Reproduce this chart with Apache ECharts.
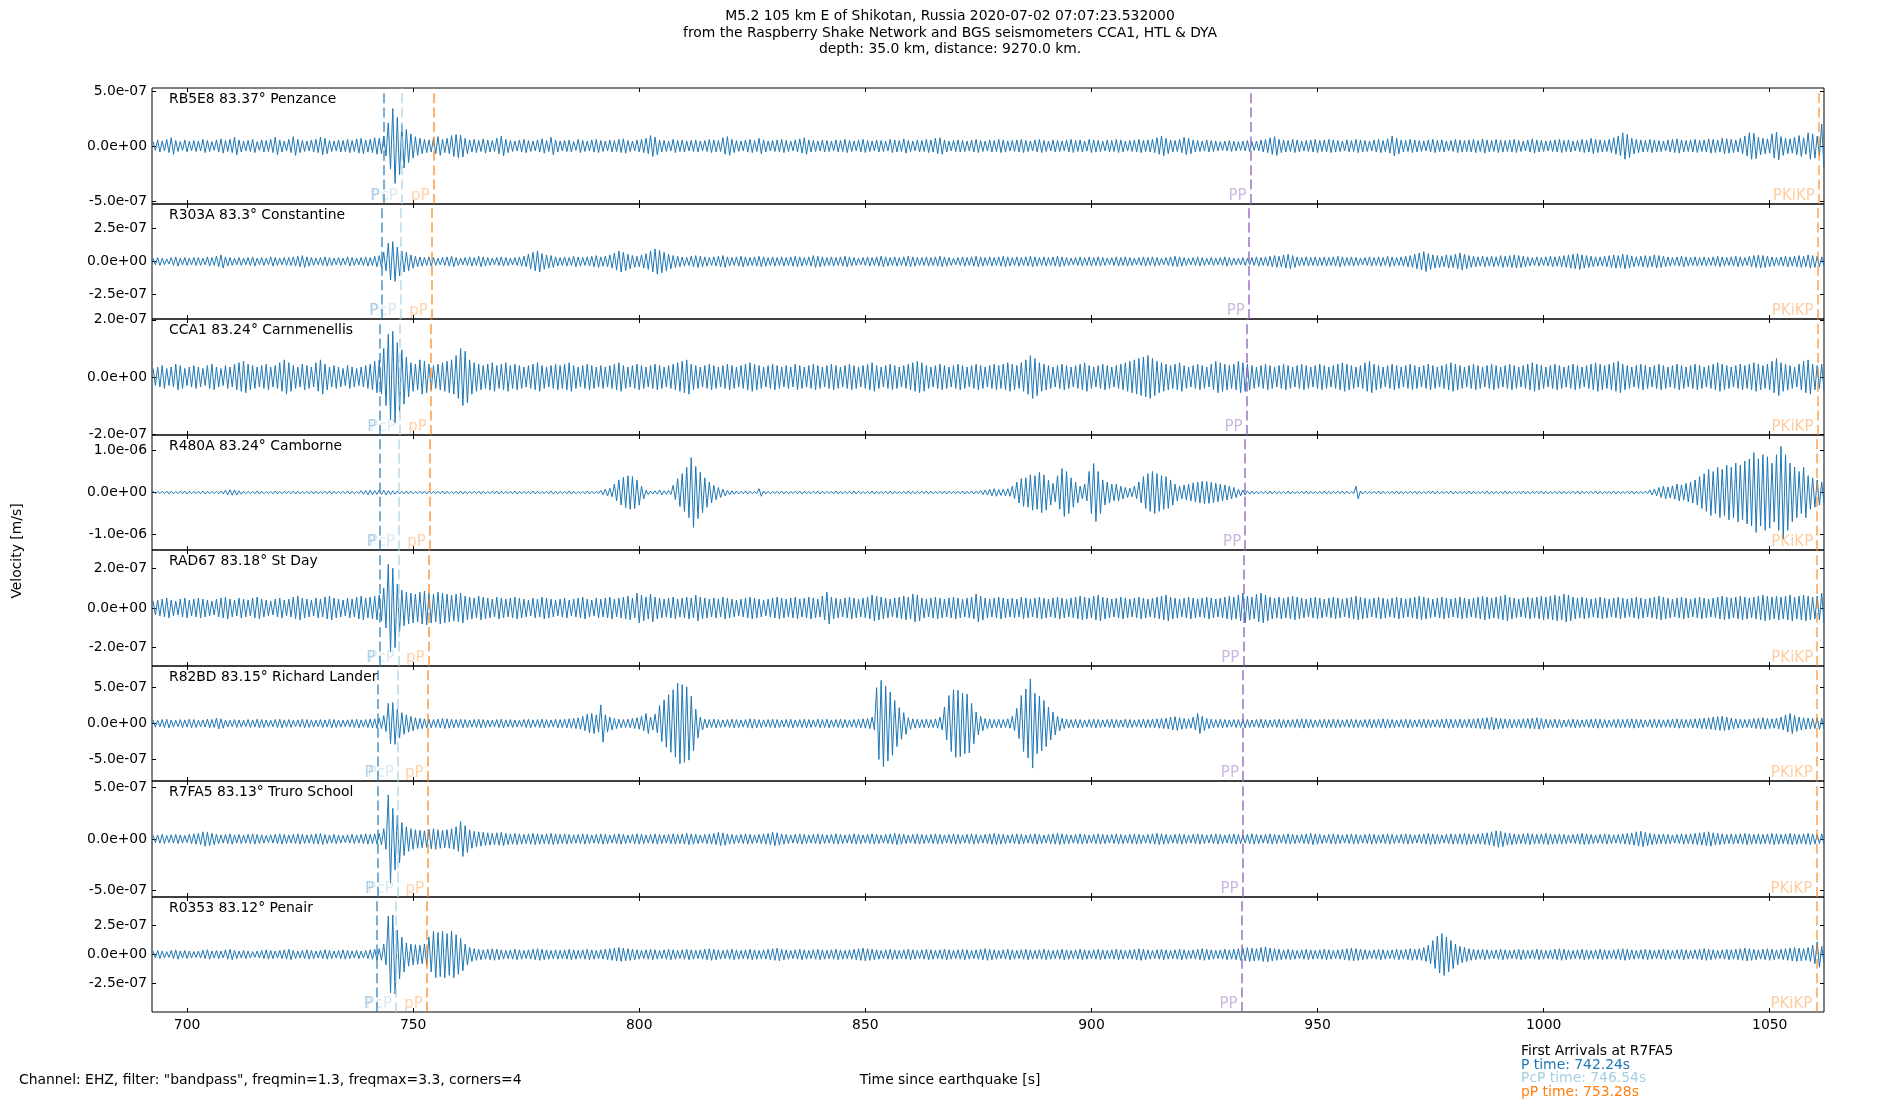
<!DOCTYPE html>
<html><head><meta charset="utf-8">
<script src="https://cdn.jsdelivr.net/npm/echarts@6/dist/echarts.min.js"></script>
<style>html,body{margin:0;padding:0;background:#fff}#c{width:1900px;height:1100px}</style>
</head><body><div id="c"></div>
<script>
// ---------------- data ----------------
const stations = ['RB5E8 83.37° Penzance','R303A 83.3° Constantine','CCA1 83.24° Carnmenellis','R480A 83.24° Camborne','RAD67 83.18° St Day','R82BD 83.15° Richard Lander','R7FA5 83.13° Truro School','R0353 83.12° Penair'];
const tStart = 692.24, tEnd = 1062;
const xTicks = [700,750,800,850,900,950,1000,1050];
// y limits and ticks in nm/s (1e-9 m/s)
const yLimits = [527,436,203,1370,292,800,565,495];
const yTicks = [[-500,0,500],[-250,0,250],[-200,0,200],[-1000,0,1000],[-200,0,200],[-500,0,500],[-500,0,500],[-250,0,250]];
// phase arrival times per station [s]
const timeP     = [743.4,743.1,742.7,742.6,742.5,742.1,742.24,741.96];
const timePcP   = [747.5,747.2,747.0,746.9,746.8,746.6,746.54,746.2];
const timepP    = [754.5,754.1,753.9,753.7,753.4,753.2,753.28,753.0];
const timePP    = [935.2,934.8,934.3,934.0,933.6,933.5,933.4,933.2];
const timePKiKP = [1060.85,1060.6,1060.55,1060.5,1060.5,1060.4,1060.3,1060.3];
// trace envelope (peak amplitude, nm/s) per 1 s bin starting at tStart
const ampRB5E8 = [40,55,45,60,75,50,40,55,45,50, 45,60,50,40,55,65,50,60,80,55, 45,50,60,40,55,50,60,80,55,45, 60,85,60,50,45,55,60,80,70,50,
45,55,50,60,50,65,70,55,60,75, 70,90,210,340,260,200,150,110,85,70, 60,55,70,85,60,70,95,105,100,70, 55,60,50,65,55,50,70,90,60,50,
45,55,60,50,45,55,65,50,80,55, 45,50,55,40,60,50,45,55,60,50, 45,55,50,60,65,50,45,55,60,70, 95,80,55,50,45,60,50,55,45,50,
55,45,50,60,55,50,75,85,60,50, 45,55,60,50,70,55,45,50,55,60, 50,45,55,65,75,55,50,45,55,50, 45,55,50,60,50,45,55,60,50,45,
55,50,45,60,55,50,65,50,45,55, 50,60,55,70,75,55,45,50,55,50, 45,55,60,50,45,55,50,60,55,45, 50,55,60,50,45,55,60,50,45,55,
50,45,55,60,50,55,45,60,55,50, 45,55,50,60,55,45,50,55,60,50, 55,60,75,90,70,55,50,60,80,70, 55,50,45,55,50,45,40,45,50,45,
40,45,50,40,45,55,60,75,85,60, 55,50,60,55,45,50,55,60,50,55, 60,55,50,45,55,50,60,55,50,45, 55,60,50,65,90,70,55,50,60,55,
50,45,55,60,50,55,45,50,60,55, 50,55,60,50,65,55,50,60,55,50, 55,60,50,45,55,65,55,50,45,50, 55,60,50,55,45,50,60,55,70,60,
55,50,60,75,90,120,105,70,60,55, 50,60,55,50,45,55,60,65,55,50, 55,60,50,55,65,60,55,70,65,60, 55,70,90,120,115,80,70,65,110,125,
85,70,65,80,95,75,120,110,90,200];
const ampR303A = [25,30,25,20,30,35,25,30,25,30, 30,25,35,30,40,50,35,30,25,30, 25,30,35,25,30,25,35,30,25,30, 30,35,40,45,35,30,25,30,35,30,
25,30,25,35,30,25,30,35,30,40, 45,70,140,150,110,80,70,50,40,35, 30,35,30,25,30,35,40,30,25,30, 35,30,40,35,30,25,30,35,30,25,
30,35,40,55,70,80,60,50,45,35, 30,35,30,40,35,30,35,40,45,35, 40,50,65,80,70,55,45,40,50,60, 80,95,85,70,55,45,40,35,30,40,
45,40,35,30,35,40,45,35,30,35, 40,35,30,35,40,35,30,35,30,35, 30,35,40,35,30,35,45,40,35,30, 35,30,35,40,35,30,25,30,35,30,
35,40,35,30,35,30,35,40,35,30, 30,35,30,35,40,35,30,25,30,35, 30,35,40,35,30,35,30,35,40,35, 30,35,30,35,40,35,30,35,30,35,
40,35,30,25,30,35,30,35,30,35, 30,25,30,35,30,35,30,25,30,35, 30,35,30,25,30,35,40,35,30,25, 30,35,30,25,30,25,30,35,30,25,
25,30,25,30,35,30,35,40,45,40, 50,55,45,35,30,35,30,35,30,35, 30,35,40,35,30,35,30,25,30,35, 30,35,30,40,35,30,35,40,45,55,
65,75,60,50,45,40,50,45,55,65, 55,45,40,35,40,35,40,35,45,40, 45,50,45,40,35,30,35,30,35,40, 35,40,45,50,55,60,50,45,40,35,
35,40,45,50,45,55,50,40,35,40, 45,40,50,45,40,35,30,35,40,35, 30,35,30,35,30,35,40,35,30,35, 40,35,30,40,45,50,45,40,35,30,
35,40,35,40,45,40,50,45,40,35];
const ampCCA1 = [30,35,40,30,35,45,40,30,35,40, 35,30,40,45,35,30,40,35,45,50, 55,45,40,35,40,45,35,40,50,60, 50,40,35,45,40,35,50,60,45,35,
40,35,30,40,35,30,35,40,45,55, 60,100,150,160,120,95,70,50,45,60, 55,45,40,45,50,55,60,75,100,90, 60,50,45,40,45,50,40,45,50,40,
45,40,35,40,45,50,40,35,40,45, 40,45,50,40,35,40,45,40,35,40, 35,40,45,50,40,35,40,45,40,35, 40,45,40,35,40,45,50,55,60,45,
40,35,40,45,40,35,40,45,40,35, 40,45,50,45,40,35,40,45,40,35, 40,35,45,40,35,40,45,40,35,40, 45,40,35,40,45,40,35,40,45,50,
40,35,40,45,40,35,40,45,50,55, 50,40,35,40,45,40,35,40,45,40, 35,40,45,40,35,40,45,40,45,50, 45,40,50,60,75,65,50,45,40,35,
40,45,40,35,40,45,50,40,35,40, 45,40,35,40,45,50,55,60,65,70, 75,65,55,50,45,40,45,50,40,35, 40,45,40,35,45,55,50,45,40,45,
55,50,45,40,35,40,45,40,35,40, 45,40,35,40,45,40,35,40,45,40, 35,40,45,50,45,40,35,40,50,55, 45,40,35,40,45,40,35,40,45,40,
35,40,45,40,35,40,45,50,45,40, 35,40,45,40,35,40,45,40,35,40, 45,40,35,40,45,50,45,40,35,40, 45,40,35,40,45,40,35,40,45,50,
45,40,45,50,55,45,40,35,40,45, 40,35,40,45,40,35,40,45,40,35, 40,45,40,35,40,45,50,45,40,35, 40,45,40,45,50,45,40,45,55,65,
50,45,40,35,45,55,60,45,40,45];
const ampR480A = [30,25,30,35,30,25,30,35,30,25, 30,35,30,25,30,35,55,65,60,40, 30,25,30,35,30,25,30,35,30,25, 30,35,30,25,30,35,30,25,30,35,
30,25,30,35,30,25,40,50,55,45, 50,55,45,40,35,30,35,30,25,30, 35,30,25,30,35,30,25,30,35,30, 25,30,35,30,25,30,35,30,25,30,
35,30,25,30,35,30,25,30,35,30, 25,30,35,30,25,30,35,30,25,50, 80,100,200,300,360,400,380,300,150,50, 35,40,60,40,50,170,330,450,600,830,
620,480,350,250,170,120,80,50,40,35, 30,35,30,25,90,35,30,25,30,35, 30,25,30,35,30,25,30,35,30,25, 30,35,30,25,30,35,30,25,30,35,
30,25,30,35,30,25,30,35,30,25, 30,35,30,25,30,35,30,25,30,35, 30,35,30,50,60,80,90,70,80,90, 150,250,330,350,420,400,480,420,300,220,
400,570,500,350,250,150,200,500,690,500, 300,250,200,200,150,120,100,150,250,380, 450,500,450,400,380,300,200,150,180,200, 230,250,270,260,240,220,200,180,150,120,
80,60,40,35,30,25,30,35,30,25, 30,35,30,25,30,35,30,25,30,35, 30,25,30,35,30,25,150,35,30,25, 30,35,30,25,30,35,30,25,30,35,
30,25,30,35,30,25,30,35,30,25, 30,35,30,25,30,35,30,25,30,35, 30,25,30,35,30,25,30,35,30,25, 30,35,30,25,30,35,30,25,30,35,
30,25,30,35,30,25,30,35,30,25, 30,60,80,120,150,130,160,200,180,220, 250,300,380,450,550,500,600,550,650,600, 700,650,750,800,950,800,900,850,700,900,
1100,900,700,600,500,600,400,350,300,250];
const ampRAD67 = [35,40,45,50,40,35,45,50,40,45, 50,45,40,35,45,50,55,45,40,50, 45,40,50,55,45,40,35,45,50,40, 45,55,60,50,45,40,50,45,55,60,
50,45,40,50,45,55,60,50,55,60, 65,100,220,200,120,90,80,75,70,80, 85,75,70,80,75,70,65,70,75,60, 55,50,60,55,50,45,55,50,45,50,
55,50,45,40,50,45,55,50,45,40, 45,50,40,45,50,55,45,40,50,45, 50,55,45,50,55,60,50,75,65,55, 70,55,50,45,50,55,45,50,55,50,
65,55,50,45,50,45,55,50,45,40, 45,50,55,50,45,40,45,50,55,50, 45,50,55,45,50,55,50,45,60,80, 55,50,45,50,55,50,45,50,55,65,
60,55,50,45,50,55,60,55,70,65, 50,45,50,55,50,45,50,55,50,45, 50,55,70,60,50,45,50,55,50,45, 50,45,55,50,45,50,55,50,45,50,
55,50,45,50,55,60,55,50,60,65, 55,50,45,50,55,50,45,50,55,50, 45,50,55,60,65,55,50,45,50,55, 50,45,50,55,50,45,50,55,60,55,
65,75,60,55,70,75,65,55,50,55, 50,55,60,55,50,45,50,55,50,45, 50,55,50,45,50,55,60,55,50,45, 50,55,50,45,50,55,50,45,50,55,
60,55,50,45,50,55,50,45,50,55, 50,45,50,55,60,55,50,55,60,65, 55,50,45,50,55,50,55,60,55,60, 65,60,70,65,55,50,55,50,45,50,
55,50,45,50,55,50,45,50,55,50, 45,50,55,60,55,50,45,50,55,50, 45,50,55,50,45,50,55,60,55,50, 55,60,55,50,55,60,65,60,55,60,
55,60,65,55,60,65,60,55,60,75];
const ampR82BD = [50,45,55,60,50,45,55,50,60,55, 45,50,60,55,75,65,50,45,55,50, 45,55,50,60,55,50,45,55,60,50, 55,45,50,60,55,50,45,55,50,60,
55,50,45,50,55,60,50,55,60,65, 70,110,280,290,200,150,120,100,80,70, 65,60,55,60,70,65,60,55,60,55, 50,55,60,55,50,45,55,60,50,55,
50,45,55,60,50,55,60,55,50,60, 55,60,65,70,80,100,130,140,120,260, 120,90,70,60,55,60,70,80,100,140, 90,130,250,330,400,470,560,540,510,380,
200,90,60,55,60,55,50,55,60,55, 50,55,65,60,55,50,55,60,55,50, 55,60,50,55,60,55,50,60,55,60, 50,55,60,55,50,55,60,65,70,90,
500,600,520,440,320,220,150,80,65,60, 55,60,55,65,90,230,390,470,460,420, 410,280,160,100,70,60,55,60,55,65, 100,210,390,480,620,420,380,320,230,160,
100,70,60,55,60,55,50,55,60,55, 50,55,60,55,50,60,55,50,55,60, 55,60,65,70,75,90,95,80,70,65, 90,140,100,70,60,55,60,55,50,55,
55,60,55,50,55,60,55,50,55,60, 55,50,55,60,65,60,55,50,55,60, 55,60,55,50,55,60,55,50,55,60, 55,60,65,60,55,50,55,60,55,50,
55,60,55,50,55,60,65,60,55,60, 55,60,65,70,75,80,85,75,70,65, 60,55,60,65,70,75,80,70,60,55, 60,55,50,55,60,55,50,55,60,65,
60,55,50,55,60,55,60,65,60,55, 50,55,60,55,50,55,60,65,60,55, 60,65,70,75,80,90,95,100,90,75, 65,60,55,60,70,75,80,70,65,75,
90,120,140,110,90,80,75,70,80,75];
const ampR7FA5 = [35,40,45,35,40,45,40,35,45,50, 55,70,65,55,45,40,45,50,40,45, 40,45,50,45,40,35,40,45,50,45, 40,45,50,45,40,45,50,55,45,40,
45,40,35,40,45,40,45,50,45,50, 55,100,430,300,230,160,120,100,90,85, 80,95,100,90,85,90,100,120,170,130, 90,75,70,65,60,55,60,65,55,50,
55,50,45,50,55,50,45,50,55,50, 45,50,45,40,45,50,45,40,45,50, 45,40,45,50,45,40,45,50,45,40, 45,50,45,40,45,50,45,50,55,50,
45,40,45,50,55,65,60,50,45,40, 45,50,45,40,45,50,55,65,60,50, 45,40,45,50,45,40,45,50,45,40, 45,50,45,40,45,50,45,40,45,50,
45,40,45,50,55,50,45,40,45,50, 45,40,45,50,45,40,45,50,45,40, 45,50,45,40,45,50,55,50,45,40, 45,50,45,40,45,50,45,40,45,50,
55,50,45,40,45,50,45,40,45,50, 45,40,45,50,45,40,45,50,45,40, 45,50,55,50,45,40,45,50,45,40, 45,50,45,40,45,50,45,40,45,50,
45,40,45,50,45,40,45,50,45,40, 45,50,45,40,45,50,55,50,45,40, 45,50,45,40,45,50,45,40,45,50, 45,40,45,50,45,40,45,50,45,40,
45,50,55,50,45,40,45,50,45,50, 55,50,45,50,55,60,70,80,75,60, 55,50,45,50,55,50,45,50,55,50, 45,50,45,40,45,50,55,50,45,40,
45,50,45,40,45,50,55,60,70,75, 65,55,50,45,50,45,40,45,50,45, 50,55,60,65,70,60,55,50,45,50, 45,50,55,50,45,50,45,50,55,50,
45,50,55,50,45,50,55,50,45,50];
const ampR0353 = [30,35,30,25,35,40,30,35,30,25, 30,35,40,30,35,30,40,45,35,30, 35,30,25,30,35,40,35,30,35,40, 45,35,30,35,40,35,30,35,40,35,
30,35,40,35,30,35,30,35,40,45, 50,90,330,340,210,150,100,90,85,80, 90,150,200,190,200,180,200,170,140,90, 60,50,45,40,45,50,45,40,35,40,
45,40,35,40,45,50,45,40,35,40, 35,40,45,40,35,40,45,40,35,40, 45,50,55,60,55,50,45,40,35,40, 45,40,35,40,45,40,35,40,45,40,
35,40,45,50,45,40,35,40,45,40, 35,40,45,40,35,40,45,50,55,45, 40,35,40,45,40,35,40,45,40,35, 40,45,40,35,40,45,50,55,50,45,
40,35,40,45,40,35,40,45,40,35, 40,45,40,35,40,45,40,35,40,45, 40,35,40,45,50,45,40,35,40,45, 40,35,40,45,40,35,40,45,40,35,
40,45,40,35,40,45,40,35,40,45, 40,35,40,45,40,35,40,45,50,45, 40,35,40,45,40,35,40,45,40,35, 40,45,50,45,40,35,40,45,40,45,
50,55,60,55,50,60,65,55,50,45, 40,45,40,35,40,45,40,35,40,45, 40,35,40,45,50,55,50,45,40,35, 40,45,40,35,40,45,40,45,50,45,
50,60,80,120,160,180,150,120,90,70, 60,50,45,40,45,40,35,40,45,40, 35,40,45,40,35,40,45,40,35,40, 45,50,45,40,35,40,45,40,35,40,
45,40,35,40,45,50,45,40,35,40, 45,40,35,40,45,40,35,40,45,40, 35,40,45,50,45,40,35,40,45,40, 45,50,55,50,45,40,45,50,45,40,
45,50,55,60,55,50,60,80,110,70];
const amps = [ampRB5E8,ampR303A,ampCCA1,ampR480A,ampRAD67,ampR82BD,ampR7FA5,ampR0353];

// ---------------- layout / style ----------------
const FONT = 'DejaVu Sans';
const L = 152, R = 1824;
const panelEdges = [88,204,319,435,550,666,781,897,1012];
const phaseStyle = [
  {name:'P',     times:timeP,     line:'rgba(31,119,180,0.6)',  text:'rgba(31,119,180,0.45)'},
  {name:'PcP',   times:timePcP,   line:'rgba(166,206,227,0.6)', text:'rgba(166,206,227,0.55)'},
  {name:'pP',    times:timepP,    line:'rgba(255,127,14,0.6)',  text:'rgba(255,127,14,0.45)'},
  {name:'PP',    times:timePP,    line:'rgba(148,103,189,0.7)', text:'rgba(148,103,189,0.6)'},
  {name:'PKiKP', times:timePKiKP, line:'rgba(255,127,14,0.55)', text:'rgba(255,127,14,0.5)'}
];
function fmtExp(v){
  const s = (v*1e-9).toExponential(1);
  return s.replace(/e([+-])(\d)$/, function(m, sg, d){ return 'e' + sg + '0' + d; });
}
const grids=[], xAxes=[], yAxes=[], series=[], graphics=[];
const tick = (vals)=>({show:true, inside:true, length:4, customValues:vals, lineStyle:{color:'#000', width:1}});
const noLine = {show:false, onZero:false};
for (let i=0;i<8;i++){
  const top = panelEdges[i], h = panelEdges[i+1]-panelEdges[i];
  grids.push({left:L, width:R-L, top:top, height:h, show:true, borderColor:'#000', borderWidth:1, backgroundColor:'transparent', containLabel:false});
  xAxes.push({type:'value', gridIndex:i, min:tStart, max:tEnd, position:'bottom', axisLine:noLine, splitLine:{show:false},
    axisTick:tick(xTicks), axisLabel:{show:i===7, customValues:xTicks, margin:6, color:'#000', fontSize:13.9, fontFamily:FONT, formatter:(v)=>String(v)}});
  xAxes.push({type:'value', gridIndex:i, min:tStart, max:tEnd, position:'top', axisLine:noLine, splitLine:{show:false},
    axisTick:tick(xTicks), axisLabel:{show:false}});
  yAxes.push({type:'value', gridIndex:i, min:-yLimits[i], max:yLimits[i], position:'left', axisLine:noLine, splitLine:{show:false},
    axisTick:tick(yTicks[i]), axisLabel:{show:true, customValues:yTicks[i], margin:5, color:'#000', fontSize:13.9, fontFamily:FONT, formatter:fmtExp}});
  yAxes.push({type:'value', gridIndex:i, min:-yLimits[i], max:yLimits[i], position:'right', axisLine:noLine, splitLine:{show:false},
    axisTick:tick(yTicks[i]), axisLabel:{show:false}});
  const pts = [];
  amps[i].forEach((a,k)=>{ const t = tStart + k; pts.push([t+0.25, a], [t+0.75, -a]); });
  series.push({type:'line', xAxisIndex:2*i, yAxisIndex:2*i, data:pts, symbol:'none', showSymbol:false, silent:true, animation:false,
    lineStyle:{color:'#1f77b4', width:1}, z:3,
    markLine:{silent:true, animation:false, symbol:['none','none'], label:{show:false},
      data: phaseStyle.map(p=>({xAxis:p.times[i], lineStyle:{color:p.line, width:2, type:[10,4.4]}}))}});
  series.push({type:'scatter', xAxisIndex:2*i, yAxisIndex:2*i, symbolSize:0, clip:false, silent:true, animation:false, z:4,
    label:{show:true, position:'left', distance:4, verticalAlign:'bottom', fontSize:15, fontFamily:FONT},
    data: phaseStyle.map(p=>({value:[p.times[i], -yLimits[i]], label:{formatter:p.name, color:p.text}}))});
  graphics.push(txt(L+17, top+11.5, stations[i], {}));
}
function txt(x, y, text, extra){
  return {type:'text', x:x, y:y, silent:true, z:10, rotation: extra.rotation||0,
    style:{text:text, fill: extra.fill||'#000', fontSize:13.9, fontFamily:FONT,
      textAlign: extra.align||'left', align: extra.align||'left', textVerticalAlign:'middle', verticalAlign:'middle'}};
}
graphics.push(txt(950, 16.5, 'M5.2 105 km E of Shikotan, Russia 2020-07-02 07:07:23.532000', {align:'center'}));
graphics.push(txt(950, 33, 'from the Raspberry Shake Network and BGS seismometers CCA1, HTL & DYA', {align:'center'}));
graphics.push(txt(950, 49.5, 'depth: 35.0 km, distance: 9270.0 km.', {align:'center'}));
graphics.push(txt(950, 1080, 'Time since earthquake [s]', {align:'center'}));
graphics.push(txt(19, 1080, 'Channel: EHZ, filter: "bandpass", freqmin=1.3, freqmax=3.3, corners=4', {}));
graphics.push(txt(17, 551, 'Velocity [m/s]', {align:'center', rotation:Math.PI/2}));
graphics.push(txt(1521, 1051, 'First Arrivals at R7FA5', {}));
graphics.push(txt(1521, 1065, 'P time: 742.24s', {fill:'#1f77b4'}));
graphics.push(txt(1521, 1078.5, 'PcP time: 746.54s', {fill:'#a6cee3'}));
graphics.push(txt(1521, 1092, 'pP time: 753.28s', {fill:'#ff7f0e'}));

const chart = echarts.init(document.getElementById('c'), null, {renderer:'canvas'});
chart.setOption({animation:false, backgroundColor:'#fff', grid:grids, xAxis:xAxes, yAxis:yAxes, series:series, graphic:graphics});
</script></body></html>
